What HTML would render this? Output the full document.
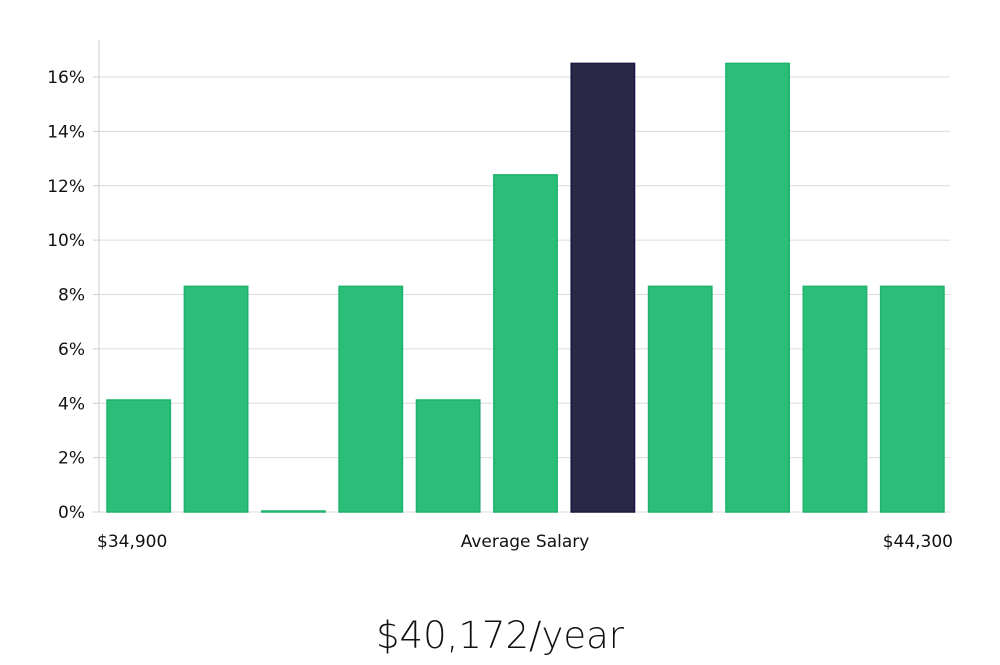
<!DOCTYPE html>
<html><head><meta charset="utf-8"><style>
body{margin:0;background:#fff;width:1000px;height:660px;overflow:hidden}
svg text{font-family:"DejaVu Sans","Liberation Sans",sans-serif}
</style></head><body>
<svg id="chart" width="1000" height="660" xmlns="http://www.w3.org/2000/svg"></svg>
<script>
const categories=["b1","b2","b3","b4","b5","b6","b7","b8","b9","b10","b11"];
const values=[4.12,8.3,0,8.3,4.12,12.4,16.5,8.3,16.5,8.3,8.3];
const highlight=[false,false,false,false,false,false,true,false,false,false,false];
const yTicks=[0,2,4,6,8,10,12,14,16];
const xLabels=["$34,900","Average Salary","$44,300"];
const salaryText="$40,172/year";
const NS="http://www.w3.org/2000/svg";
const svg=document.getElementById('chart');
const x0=99,x1=950,yBase=512,yTop=40;
const y=v=>yBase-v*(512-77)/16;
const band=(x1-x0)/categories.length;
function mk(t,a){const e=document.createElementNS(NS,t);for(const k in a)e.setAttribute(k,a[k]);svg.appendChild(e);return e;}
yTicks.forEach(t=>{
 const g=mk('line',{x1:x0,x2:x1,y1:y(t),y2:y(t),stroke:'#dcdcdc','stroke-width':1});
 
 
 const tk=mk('line',{x1:x0-6,x2:x0,y1:y(t),y2:y(t),stroke:'#ccc'});
 
 
 const l=mk('text',{x:x0-14,y:y(t)+6,'text-anchor':'end','font-size':17,fill:'#111'});
 l.textContent=t+'%';
 
 
});
const ax=mk('line',{x1:x0,x2:x0,y1:yTop,y2:yBase,stroke:'#ccc'});


values.forEach((v,i)=>{
 const bx=x0+i*band+8, bw=band-14;
 const top=y(v), h=Math.max(yBase-top,1);
 const r=mk('rect',{x:bx,y:yBase-h,width:bw,height:h,fill:highlight[i]?'#2a2747':'#2bbe78',stroke:highlight[i]?'#1a1842':'#1db36c','stroke-width':1.5});
 
 
});
const xl=[[97,'start'],[525,'middle'],[953,'end']];
xLabels.forEach((s,i)=>{
 const t=mk('text',{x:xl[i][0],y:547,'text-anchor':xl[i][1],'font-size':17,fill:'#111'});
 t.textContent=s;
 
 
});
const st=mk('text',{x:500,y:648,'text-anchor':'middle','font-size':37,fill:'#111','font-family':'Liberation Sans, sans-serif','font-weight':300});
st.textContent=salaryText;


</script>
</body></html>
